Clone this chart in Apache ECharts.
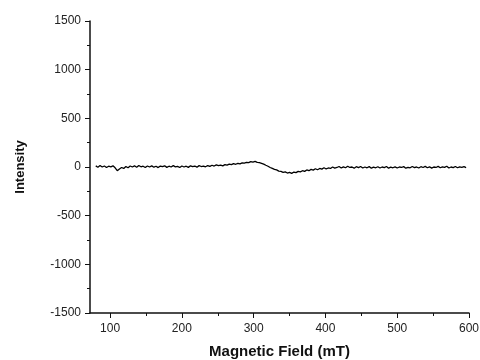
<!DOCTYPE html>
<html>
<head>
<meta charset="utf-8">
<script src="https://cdn.jsdelivr.net/npm/echarts@6/dist/echarts.min.js"></script>
<style>
html, body { margin: 0; padding: 0; background: #fff; }
#chart { width: 480px; height: 360px; }
</style>
</head>
<body>
<div id="chart"></div>
<script>
// magnetic field (mT) from 80, step 3
var fieldStart = 80;
var fieldStep = 3;
var intensity = [
    12, -2, 15, 0, 10, -5, 8, 2, 12, -8,
    -38, -20, -5, -15, 5, -8, 10, 0, 12, -3,
    15, 2, 8, -5, 10, 0, 12, -2, 8, -6,
    10, 3, 12, -4, 8, 0, 14, 2, 6, -5,
    10, 0, 8, -4, 12, 3, 10, -2, 14, 5,
    10, 2, 15, 6, 18, 10, 22, 14, 20, 12,
    25, 20, 30, 24, 35, 28, 38, 32, 42, 40,
    48, 45, 55, 50, 58, 48, 45, 38, 30, 18,
    8, -5, -15, -25, -30, -42, -45, -55, -50, -62,
    -55, -65, -52, -58, -45, -50, -38, -45, -30, -38,
    -25, -32, -18, -28, -15, -22, -8, -20, -10, -15,
    0, -12, -5, 5, -10, 2, -8, 8, -5, 0,
    -12, 3, -6, 5, -10, 0, -8, 4, -12, -2,
    -8, 3, -10, 0, -6, 5, -12, -2, -8, 2,
    -10, 0, -5, 4, -12, -3, -8, 5, -6, 0,
    -10, 3, -5, 6, -8, 2, -12, 0, -5, 6,
    -8, 2, -4, 8, -10, 0, -6, 5, -8, 2,
    -3, 4, -6
];
var xMajorTicks = [100, 200, 300, 400, 500, 600];
var xMinorTicks = [150, 250, 350, 450, 550];

var seriesData = [];
for (var i = 0; i < intensity.length; i++) {
    seriesData.push([fieldStart + i * fieldStep, intensity[i]]);
}

var labelFont = 'Liberation Sans, Arial, sans-serif';
var plainNum = function(v) { return String(v); };
var chart = echarts.init(document.getElementById('chart'));
chart.setOption({
    backgroundColor: '#fff',
    animation: false,
    grid: { left: 90, right: 11, top: 21, bottom: 47, containLabel: false, outerBoundsMode: 'none' },
    xAxis: [{
        type: 'value',
        min: 72,
        max: 600,
        name: 'Magnetic Field (mT)',
        nameLocation: 'middle',
        nameGap: 31,
        nameTextStyle: { fontFamily: labelFont, fontWeight: 'bold', fontSize: 15, color: '#111' },
        axisLine: { show: true, onZero: false, lineStyle: { color: '#111', width: 1.5 } },
        axisTick: { show: true, inside: false, length: 5, customValues: xMajorTicks, lineStyle: { color: '#111' } },
        axisLabel: { customValues: xMajorTicks, formatter: plainNum, margin: 10, fontFamily: labelFont, fontSize: 12, color: '#222' },
        splitLine: { show: false }
    }, {
        type: 'value',
        min: 72,
        max: 600,
        position: 'bottom',
        axisLine: { show: false, onZero: false },
        axisTick: { show: true, inside: false, length: 3, customValues: xMinorTicks, lineStyle: { color: '#111' } },
        axisLabel: { show: false },
        splitLine: { show: false }
    }],
    yAxis: {
        type: 'value',
        min: -1500,
        max: 1500,
        interval: 500,
        name: 'Intensity',
        nameLocation: 'middle',
        nameGap: 63,
        nameTextStyle: { fontFamily: labelFont, fontWeight: 'bold', fontSize: 13, color: '#111' },
        axisLine: { show: true, onZero: false, lineStyle: { color: '#111', width: 1.5 } },
        axisTick: { show: true, inside: false, length: 5, lineStyle: { color: '#111' } },
        minorTick: { show: true, splitNumber: 2, length: 3, lineStyle: { color: '#111' } },
        axisLabel: { formatter: plainNum, margin: 9, fontFamily: labelFont, fontSize: 12, color: '#222' },
        splitLine: { show: false }
    },
    series: [{
        type: 'line',
        xAxisIndex: 0,
        data: seriesData,
        showSymbol: false,
        lineStyle: { color: '#000', width: 1.3 }
    }]
});
</script>
</body>
</html>
